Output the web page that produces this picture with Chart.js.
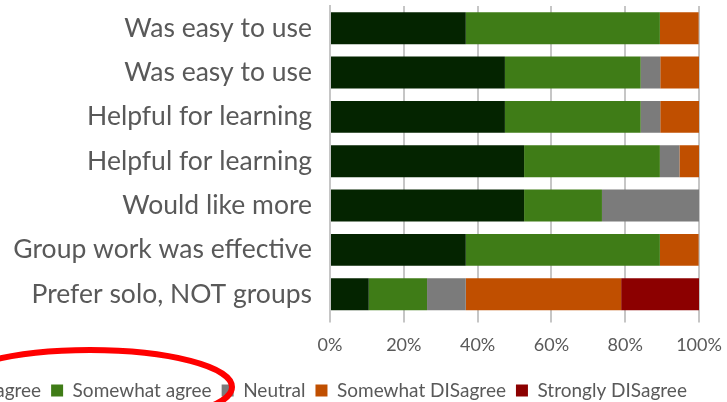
<!DOCTYPE html>
<html>
<head>
<meta charset="utf-8">
<script src="https://cdn.jsdelivr.net/npm/chart.js@4.4.1/dist/chart.umd.min.js"></script>
<style>
  html, body { margin: 0; padding: 0; background: #fff; overflow: hidden; width: 727px; height: 402px; }
  #wrap { position: absolute; left: -112px; top: 0; width: 839px; height: 410px; }
</style>
</head>
<body>
<div id="wrap"><canvas id="myChart" width="839" height="410"></canvas></div>
<script>
// survey rows, top to bottom
const categories = [
    "Was easy to use",
    "Was easy to use",
    "Helpful for learning",
    "Helpful for learning",
    "Would like more",
    "Group work was effective",
    "Prefer solo, NOT groups"
];

// share of responses (%)
const stronglyAgree    = [36.8, 47.4, 47.4, 52.6, 52.6, 36.8, 10.5];
const somewhatAgree    = [52.6, 36.8, 36.8, 36.8, 21.1, 52.6, 15.8];
const neutral          = [0, 5.3, 5.3, 5.3, 26.3, 0, 10.5];
const somewhatDisagree = [10.5, 10.5, 10.5, 5.3, 0, 10.5, 42.1];
const stronglyDisagree = [0, 0, 0, 0, 0, 0, 21.1];

const xTickValues = [0, 20, 40, 60, 80, 100];

const OFFSET = 112; // canvas is shifted left, the page crops it
const textColor = '#595959';
const fontName = 'Lato';

// red hand-drawn ring over the legend
const circleMark = {
    id: 'circleMark',
    afterDraw(chart) {
        const ctx = chart.ctx;
        ctx.save();
        ctx.strokeStyle = '#ff0000';
        ctx.lineWidth = 6;
        ctx.beginPath();
        ctx.ellipse(90 + OFFSET, 387, 142, 37, 0, 0, Math.PI * 2);
        ctx.stroke();
        ctx.restore();
    }
};

const ctx1 = document.getElementById('myChart');

const surveyChart = new Chart(ctx1, {
    type: 'bar',
    data: {
        labels: categories,
        datasets: [
            { label: 'Strongly agree', data: stronglyAgree, backgroundColor: '#042400' },
            { label: 'Somewhat agree', data: somewhatAgree, backgroundColor: '#3f7c17' },
            { label: 'Neutral', data: neutral, backgroundColor: '#7b7b7b' },
            { label: 'Somewhat DISagree', data: somewhatDisagree, backgroundColor: '#c04f00' },
            { label: 'Strongly DISagree', data: stronglyDisagree, backgroundColor: '#8c0000' }
        ]
    },
    options: {
        indexAxis: 'y',
        responsive: false,
        animation: false,
        datasets: {
            bar: { barPercentage: 0.72, categoryPercentage: 1.0, borderWidth: 0 }
        },
        layout: {
            padding: { top: 6, right: 28, left: 0, bottom: 0 }
        },
        plugins: {
            tooltip: { enabled: false },
            legend: {
                position: 'bottom',
                labels: {
                    boxWidth: 12,
                    boxHeight: 12,
                    padding: 10,
                    color: textColor,
                    font: { family: fontName, size: 19 }
                }
            }
        },
        scales: {
            x: {
                stacked: true,
                min: 0,
                max: 100,
                afterBuildTicks: (axis) => {
                    axis.ticks = xTickValues.map(v => ({ value: v }));
                },
                afterFit: (axis) => {
                    axis.paddingLeft = 0;
                    axis.paddingRight = 0;
                    axis.height += 3; // a bit more air above the legend
                },
                ticks: {
                    color: textColor,
                    padding: 12,
                    font: { family: fontName, size: 18 },
                    callback: (v) => v + '%'
                },
                grid: {
                    color: '#c6c6c6',
                    lineWidth: 2,
                    tickLength: 6
                },
                border: { display: false }
            },
            y: {
                stacked: true,
                afterFit: (axis) => {
                    axis.width = 330 + OFFSET;
                    axis.paddingTop = 0;
                    axis.paddingBottom = 0;
                },
                ticks: {
                    color: textColor,
                    padding: 10,
                    font: { family: fontName, size: 26.5 }
                },
                grid: { display: false },
                border: { display: true, color: '#c6c6c6', width: 2 }
            }
        }
    },
    plugins: [circleMark]
});
</script>
</body>
</html>
